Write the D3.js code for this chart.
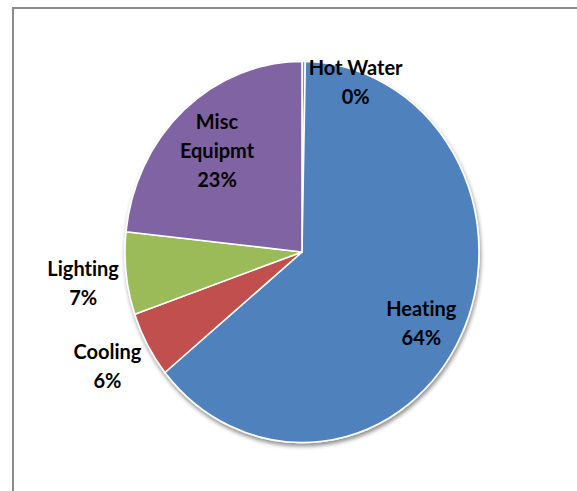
<!DOCTYPE html>
<html>
<head>
<meta charset="utf-8">
<script src="https://cdn.jsdelivr.net/npm/d3@7"></script>
<style>
  html, body { margin: 0; padding: 0; background: #ffffff; }
  svg { display: block; }
  .lbl { font-family: Lato, "Open Sans", sans-serif; font-weight: bold; font-size: 20px; fill: #000;
         font-variant-ligatures: none; font-feature-settings: "liga" 0, "clig" 0; }
</style>
</head>
<body>
<svg id="chart" width="577" height="491"></svg>
<script>
// Building energy end-use shares (percent), clockwise from 12 o'clock
const categories = ["Hot Water", "Heating", "Cooling", "Lighting", "Misc Equipmt"];
const shares = [0.3, 63.8, 5.6, 7.0, 23.3];
const shareLabels = ["0%", "64%", "6%", "7%", "23%"];
const colors = ["#4BACC6", "#4F81BD", "#C0504D", "#9BBB59", "#8064A2"];

// Label lines as they wrap in the chart
const labelLines = [["Hot Water"], ["Heating"], ["Cooling"], ["Lighting"], ["Misc", "Equipmt"]];
// Label placement: radial fraction along the slice mid-angle plus a nudge in px
const labelLayout = [
  { k: 1.0, dx: 52, dy: 21 },
  { k: 0.8, dx: -8, dy: 5 },
  { k: 1.0, dx: -40, dy: 22 },
  { k: 1.0, dx: -43, dy: 10 },
  { k: 0.71, dx: -1, dy: 0 }
];

const W = 577, H = 491;
const cx = 302, cy = 252;
const rx = 177, ry = 190.5;
const lineH = 29;

const svg = d3.select("#chart");

// chart area frame
svg.append("rect")
  .attr("x", 13).attr("y", 8)
  .attr("width", W + 20).attr("height", H + 20)
  .attr("fill", "#ffffff")
  .attr("stroke", "#8a8a8a")
  .attr("stroke-width", 2);

const defs = svg.append("defs");
const f = defs.append("filter").attr("id", "shadow")
  .attr("x", "-10%").attr("y", "-10%").attr("width", "120%").attr("height", "125%");
f.append("feGaussianBlur").attr("in", "SourceAlpha").attr("stdDeviation", 2).attr("result", "b");
f.append("feOffset").attr("in", "b").attr("dx", 1).attr("dy", 3).attr("result", "o");
f.append("feComponentTransfer").attr("in", "o").attr("result", "s")
  .append("feFuncA").attr("type", "linear").attr("slope", 0.45);
const merge = f.append("feMerge");
merge.append("feMergeNode").attr("in", "s");
merge.append("feMergeNode").attr("in", "SourceGraphic");

const data = categories.map((c, i) => ({ name: c, value: shares[i], label: shareLabels[i], i }));

const pie = d3.pie().sort(null).value(d => d.value);
const arcs = pie(data);
const arc = d3.arc().innerRadius(0).outerRadius(rx);

const g = svg.append("g")
  .attr("filter", "url(#shadow)")
  .append("g")
  .attr("transform", `translate(${cx},${cy}) scale(1,${ry / rx})`);

g.selectAll("path")
  .data(arcs)
  .join("path")
  .attr("d", arc)
  .attr("fill", d => colors[d.data.i])
  .attr("stroke", "#ffffff")
  .attr("stroke-width", 1.6)
  .attr("stroke-linejoin", "round")
  .attr("vector-effect", "non-scaling-stroke");

// labels
const labels = svg.append("g");
arcs.forEach(a => {
  const i = a.data.i;
  const L = labelLayout[i];
  const mid = (a.startAngle + a.endAngle) / 2;
  const x = cx + rx * L.k * Math.sin(mid) + L.dx;
  const y = cy - ry * L.k * Math.cos(mid) + L.dy;
  const lines = labelLines[i].concat([a.data.label]);
  const top = y - (lines.length - 1) * lineH / 2;
  const t = labels.append("text").attr("class", "lbl").attr("text-anchor", "middle");
  lines.forEach((s, j) => {
    t.append("tspan").attr("x", x).attr("y", top + j * lineH + 7).text(s);
  });
});
</script>
</body>
</html>
